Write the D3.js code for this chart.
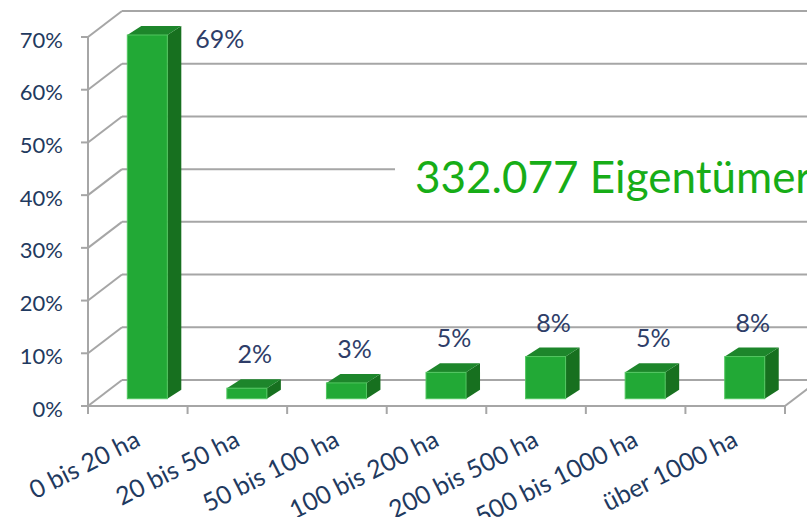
<!DOCTYPE html>
<html><head><meta charset="utf-8">
<script src="https://cdn.jsdelivr.net/npm/d3@7"></script>
<style>html,body{margin:0;padding:0;background:#fff;}svg{display:block;}</style>
</head><body>
<svg id="c" width="807" height="517"></svg>
<script>
const categories = ["0 bis 20 ha","20 bis 50 ha","50 bis 100 ha","100 bis 200 ha","200 bis 500 ha","500 bis 1000 ha","über 1000 ha"];
const values = [0.69, 0.02, 0.03, 0.05, 0.08, 0.05, 0.08];
const valueLabels = ["69%","2%","3%","5%","8%","5%","8%"];
const yTicks = [0,0.1,0.2,0.3,0.4,0.5,0.6,0.7];
const annotation = "332.077 Eigentümer";

const svg = d3.select("#c");
const FONT = "Lato, 'Open Sans', sans-serif";
const DX = 34, DY = -26;          // depth of the chart box
const BOX = 0.28, BDX = 14, BDY = -9; // bar placement inside depth
const x = d3.scaleBand().domain(categories).range([88, 785]);
const y = d3.scaleLinear().domain([0, 0.7]).range([406, 37]);
const grid = "#a6a6a6";

// back-wall gridlines and left-wall diagonals
yTicks.forEach(t => {
  svg.append("line").attr("x1", 88).attr("y1", y(t)).attr("x2", 88 + DX).attr("y2", y(t) + DY)
    .attr("stroke", grid).attr("stroke-width", 2);
  svg.append("line").attr("x1", 88 + DX).attr("y1", y(t) + DY).attr("x2", 830).attr("y2", y(t) + DY)
    .attr("stroke", grid).attr("stroke-width", 2);
});
// floor front edge and right diagonal
svg.append("line").attr("x1", 88).attr("y1", y(0)).attr("x2", 785).attr("y2", y(0)).attr("stroke", grid).attr("stroke-width", 2);
svg.append("line").attr("x1", 785).attr("y1", y(0)).attr("x2", 785 + DX).attr("y2", y(0) + DY).attr("stroke", grid).attr("stroke-width", 2);
// front vertical axis
svg.append("line").attr("x1", 88).attr("y1", y(0.7)).attr("x2", 88).attr("y2", y(0)).attr("stroke", grid).attr("stroke-width", 2);
// y ticks
yTicks.forEach(t => {
  svg.append("line").attr("x1", 81).attr("y1", y(t)).attr("x2", 88).attr("y2", y(t)).attr("stroke", grid).attr("stroke-width", 2);
  svg.append("text").attr("x", 63).attr("y", y(t) + 2).attr("text-anchor", "end").attr("dominant-baseline", "central")
    .attr("font-family", FONT).attr("font-size", 22).attr("fill", "#1f3a60").text(d3.format(".0%")(t));
});
// x ticks
const bounds = categories.map(c => x(c)).concat([x.range()[1]]);
bounds.forEach(b => {
  svg.append("line").attr("x1", b).attr("y1", y(0)).attr("x2", b).attr("y2", y(0) + 8).attr("stroke", grid).attr("stroke-width", 2);
});

// annotation text box
svg.append("rect").attr("x", 395).attr("y", 140).attr("width", 420).attr("height", 68).attr("fill", "#fff");
svg.append("text").attr("x", 415).attr("y", 193).attr("font-family", FONT).attr("font-size", 44)
  .attr("fill", "#17ad17").text(annotation);

// bars
const bw = 40;
const offX = DX * BOX, offY = DY * BOX;
categories.forEach((c, i) => {
  const v = values[i];
  const x0 = x(c) + x.bandwidth() / 2 - bw / 2 + offX;
  const x1 = x0 + bw;
  const yb = y(0) + offY, yt = y(v) + offY;
  const g = svg.append("g");
  g.append("path").attr("d", `M${x1},${yt}L${x1 + BDX},${yt + BDY}L${x1 + BDX},${yb + BDY}L${x1},${yb}Z`)
    .attr("fill", "#17701f");
  g.append("path").attr("d", `M${x0},${yt}L${x0 + BDX},${yt + BDY}L${x1 + BDX},${yt + BDY}L${x1},${yt}Z`)
    .attr("fill", "#1d862b");
  g.append("rect").attr("x", x0).attr("y", yt).attr("width", bw).attr("height", yb - yt)
    .attr("fill", "#22a936").attr("stroke", "#52c660").attr("stroke-width", 1);
  const lab = svg.append("text").attr("font-family", FONT).attr("font-size", 25).attr("fill", "#2e3d68").text(valueLabels[i]);
  if (yt + BDY - 16 < 30) {
    lab.attr("x", x1 + BDX + 14).attr("y", yt + 13).attr("text-anchor", "start");
  } else {
    lab.attr("x", x0 + bw / 2 + 8).attr("y", yt + BDY - 16).attr("text-anchor", "middle");
  }
  const cx = x(c) + x.bandwidth() / 2 + 4, cy = 445;
  svg.append("text").attr("x", cx).attr("y", cy).attr("text-anchor", "end")
    .attr("transform", `rotate(-27,${cx},${cy})`)
    .attr("font-family", FONT).attr("font-size", 25).attr("fill", "#1f3a60").text(c);
});
</script>
</body></html>
